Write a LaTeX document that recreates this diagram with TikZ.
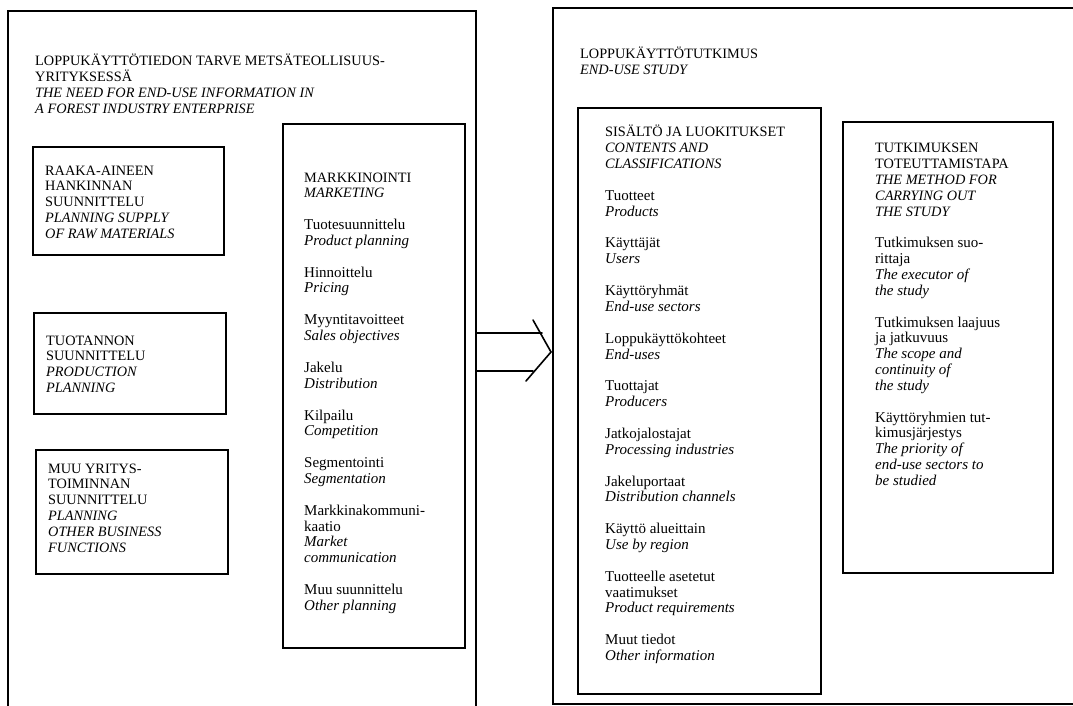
\documentclass[tikz,border=0pt]{standalone}
\usepackage{fontspec}
\setmainfont{Liberation Serif}
\newcommand\CP[1]{\hbox{\fontsize{14.3}{15.8}\selectfont #1}}
\newcommand\CI[1]{\hbox{\fontsize{14.3}{15.8}\selectfont\itshape #1}}
\newcommand\LW[1]{\hbox{#1}}
\newcommand\LI[1]{\hbox{\itshape #1}}
\newcommand\gap{\vskip16pt}
\newcommand\stack[1]{\vtop{\baselineskip=15.8pt\lineskiplimit=-100pt\lineskip=0pt #1}}
\tikzset{
  box/.style={draw, line width=1.8pt, inner sep=0pt, anchor=north west},
  frame/.style={line width=1.7pt},
  txt/.style={anchor=base west, inner sep=0pt, font=\fontsize{15}{15.8}\selectfont},
  arrowline/.style={line width=1.6pt, line cap=round, line join=miter}
}
\begin{document}
\begin{tikzpicture}[x=1pt,y=-1pt]
\useasboundingbox (0,0) rectangle (1073,706);
% outer frames
\draw[frame] (8,706) -- (8,11) -- (476,11) -- (476,706);
\draw[frame] (1073,8) -- (553,8) -- (553,704) -- (1073,704);
% left header
\node[txt] (lhead) at (35,66) {\stack{\CP{LOPPUKÄYTTÖTIEDON TARVE METSÄTEOLLISUUS-}\CP{YRITYKSESSÄ}\CI{THE NEED FOR END-USE INFORMATION IN}\CI{A FOREST INDUSTRY ENTERPRISE}}};
% left small boxes
\node[box, minimum width=191pt, minimum height=108pt] (raw) at (32,146) {};
\node[txt] (rawt) at (45,175) {\stack{\CP{RAAKA-AINEEN}\CP{HANKINNAN}\CP{SUUNNITTELU}\CI{PLANNING SUPPLY}\CI{OF RAW MATERIALS}}};
\node[box, minimum width=192pt, minimum height=101pt] (prod) at (33,312) {};
\node[txt] (prodt) at (46,345) {\stack{\CP{TUOTANNON}\CP{SUUNNITTELU}\CI{PRODUCTION}\CI{PLANNING}}};
\node[box, minimum width=192pt, minimum height=124pt] (oth) at (35,449) {};
\node[txt] (otht) at (48,473) {\stack{\CP{MUU YRITYS-}\CP{TOIMINNAN}\CP{SUUNNITTELU}\CI{PLANNING}\CI{OTHER BUSINESS}\CI{FUNCTIONS}}};
% marketing box
\node[box, minimum width=182pt, minimum height=524pt] (mkt) at (282,123) {};
\node[txt] (mktt) at (304,182) {\stack{\CP{MARKKINOINTI}\CI{MARKETING}\gap
\LW{Tuotesuunnittelu}\LI{Product planning}\gap
\LW{Hinnoittelu}\LI{Pricing}\gap
\LW{Myyntitavoitteet}\LI{Sales objectives}\gap
\LW{Jakelu}\LI{Distribution}\gap
\LW{Kilpailu}\LI{Competition}\gap
\LW{Segmentointi}\LI{Segmentation}\gap
\LW{Markkinakommuni-}\LW{kaatio}\LI{Market}\LI{communication}\gap
\LW{Muu suunnittelu}\LI{Other planning}}};
% arrow
\coordinate (a1s) at (476,333);
\coordinate (a1e) at (542,333);
\coordinate (a2s) at (476,371);
\coordinate (a2e) at (533,371);
\coordinate (ctop) at (533,320);
\coordinate (capex) at (551,352);
\coordinate (cbot) at (526,381);
\draw[arrowline] (a1s) -- (a1e);
\draw[arrowline] (a2s) -- (a2e);
\draw[arrowline] (ctop) -- (capex) -- (cbot);
% right header
\node[txt] (rhead) at (580,59) {\stack{\CP{LOPPUKÄYTTÖTUTKIMUS}\CI{END-USE STUDY}}};
% contents box
\node[box, minimum width=243pt, minimum height=586pt] (cont) at (577,107) {};
\node[txt] (contt) at (605,137) {\stack{\CP{SISÄLTÖ JA LUOKITUKSET}\CI{CONTENTS AND}\CI{CLASSIFICATIONS}\gap
\LW{Tuotteet}\LI{Products}\gap
\LW{Käyttäjät}\LI{Users}\gap
\LW{Käyttöryhmät}\LI{End-use sectors}\gap
\LW{Loppukäyttökohteet}\LI{End-uses}\gap
\LW{Tuottajat}\LI{Producers}\gap
\LW{Jatkojalostajat}\LI{Processing industries}\gap
\LW{Jakeluportaat}\LI{Distribution channels}\gap
\LW{Käyttö alueittain}\LI{Use by region}\gap
\LW{Tuotteelle asetetut}\LW{vaatimukset}\LI{Product requirements}\gap
\LW{Muut tiedot}\LI{Other information}}};
% method box
\node[box, minimum width=210pt, minimum height=451pt] (meth) at (842,121) {};
\node[txt] (metht) at (875,153) {\stack{\CP{TUTKIMUKSEN}\CP{TOTEUTTAMISTAPA}\CI{THE METHOD FOR}\CI{CARRYING OUT}\CI{THE STUDY}\gap
\LW{Tutkimuksen suo-}\LW{rittaja}\LI{The executor of}\LI{the study}\gap
\LW{Tutkimuksen laajuus}\LW{ja jatkuvuus}\LI{The scope and}\LI{continuity of}\LI{the study}\gap
\LW{Käyttöryhmien tut-}\LW{kimusjärjestys}\LI{The priority of}\LI{end-use sectors to}\LI{be studied}}};
\end{tikzpicture}
\end{document}
